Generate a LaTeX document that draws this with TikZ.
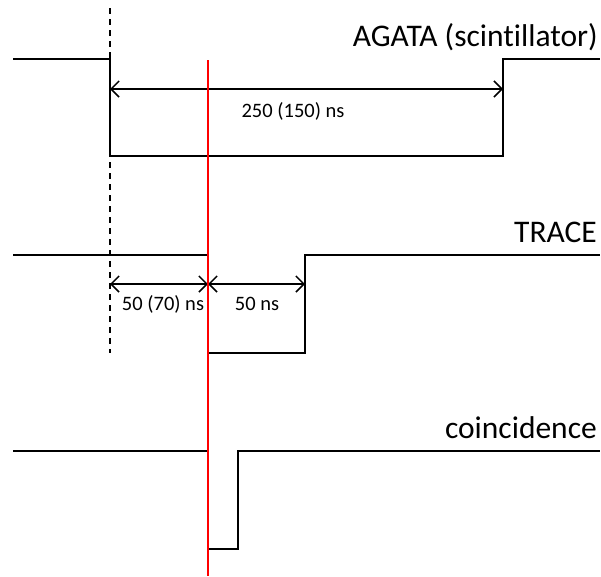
\documentclass[tikz,border=0pt]{standalone}
\usepackage{fontspec}
\setmainfont[Ligatures=NoCommon]{Carlito}
\usetikzlibrary{arrows.meta}
\begin{document}
\begin{tikzpicture}[x=1pt,y=-1pt,
  sig/.style={line width=1.8pt, black},
  dimarrow/.style={line width=1.5pt, {Straight Barb[length=8pt,width=16pt]}-{Straight Barb[length=8pt,width=16pt]}},
  big/.style={font=\fontsize{31.5}{31.5}\selectfont, anchor=base east, inner sep=0pt},
  small/.style={font=\fontsize{20.5}{20.5}\selectfont, anchor=base, inner sep=0pt}]
\useasboundingbox (0,0) rectangle (601,576);
% AGATA
\coordinate (a0) at (13,59);
\coordinate (a1) at (110,59);
\coordinate (a2) at (110,156);
\coordinate (a3) at (503,156);
\coordinate (a4) at (503,59);
\coordinate (a5) at (600,59);
\draw[sig] (a0) -- (a1) -- (a2) -- (a3) -- (a4) -- (a5);
% dashed reference line
\coordinate (d0) at (110,8);
\coordinate (d1) at (110,353);
\draw[line width=1.4pt, dash pattern=on 6pt off 5pt] (d0) -- (d1);
% AGATA dimension
\coordinate (aw0) at (110,89);
\coordinate (aw1) at (503,89);
\draw[dimarrow] (aw0) -- (aw1);
\node[small] (lab250) at (293,117) {250 (150) ns};
\node[big] (agata) at (598,46) {AGATA (scintillator)};
% TRACE
\coordinate (t0) at (13,255);
\coordinate (t1) at (208,255);
\coordinate (t2) at (208,353);
\coordinate (t3) at (305,353);
\coordinate (t4) at (305,255);
\coordinate (t5) at (600,255);
\draw[sig] (t0) -- (t1) -- (t2) -- (t3) -- (t4) -- (t5);
\coordinate (tw0) at (110,284);
\coordinate (tw1) at (208,284);
\coordinate (tw2) at (305,284);
\draw[dimarrow] (tw0) -- (tw1);
\draw[dimarrow] (tw1) -- (tw2);
\node[small] (lab50a) at (163,310) {50 (70) ns};
\node[small] (lab50b) at (257,310) {50 ns};
\node[big] (trace) at (597,242) {TRACE};
% coincidence
\coordinate (c0) at (13,451);
\coordinate (c1) at (208,451);
\coordinate (c2) at (208,549);
\coordinate (c3) at (238,549);
\coordinate (c4) at (238,451);
\coordinate (c5) at (600,451);
\draw[sig] (c0) -- (c1) -- (c2) -- (c3) -- (c4) -- (c5);
\node[big] (coinc) at (597,438) {coincidence};
% red line
\coordinate (r0) at (208,60);
\coordinate (r1) at (208,576);
\draw[red, line width=1.4pt] (r0) -- (r1);
\end{tikzpicture}
\end{document}
